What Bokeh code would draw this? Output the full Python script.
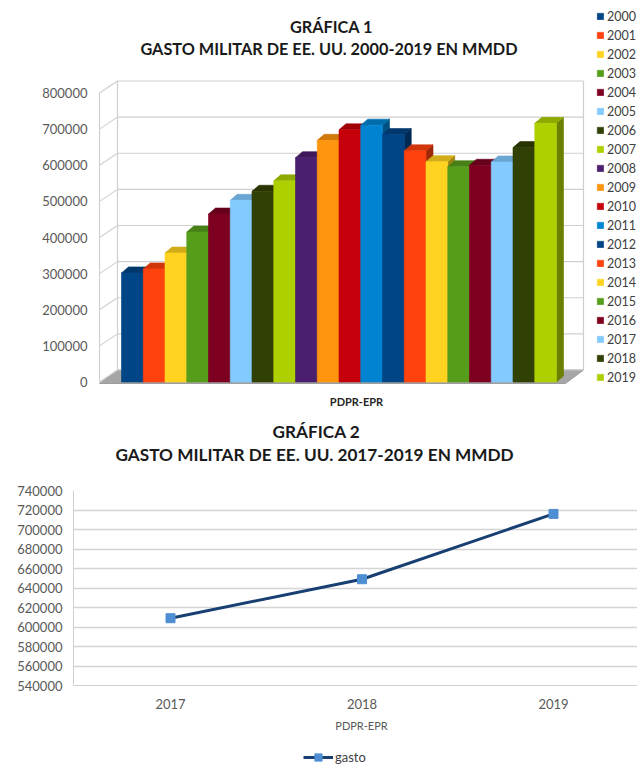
from bokeh.plotting import figure
from bokeh.models import (Range1d, FixedTicker, NumeralTickFormatter, Title,
                          Legend, LegendItem, Label)
from bokeh.layouts import column
from bokeh.embed import file_html
from bokeh.resources import INLINE

# ---------------- data ----------------
years = ["2000", "2001", "2002", "2003", "2004", "2005", "2006", "2007", "2008", "2009",
         "2010", "2011", "2012", "2013", "2014", "2015", "2016", "2017", "2018", "2019"]
gasto_total = [302000, 313000, 357000, 415000, 465000, 503000, 528000, 557000, 621000, 669000,
               698000, 711000, 685000, 640000, 610000, 596000, 600000, 609000, 649000, 716000]
bar_colors = ["#004586", "#ff420e", "#ffd320", "#579d1c", "#7e0021", "#83caff", "#314004",
              "#aecf00", "#4b1f6f", "#ff950e", "#c5000b", "#0084d1", "#004586", "#ff420e",
              "#ffd320", "#579d1c", "#7e0021", "#83caff", "#314004", "#aecf00"]
y1_ticks = [0, 100000, 200000, 300000, 400000, 500000, 600000, 700000, 800000]

years2 = [2017, 2018, 2019]
gasto2 = [609000, 649000, 716000]
y2_ticks = [540000, 560000, 580000, 600000, 620000, 640000, 660000, 680000, 700000,
            720000, 740000]

FONT = "Lato"
TICK_COLOR = "#595959"
TITLE_COLOR = "#1a1a1a"
LINE_COLOR = "#173f72"
MARK_COLOR = "#4e8fd3"


def shade(hex_color, f):
    h = hex_color.lstrip("#")
    r, g, b = (int(h[i:i + 2], 16) for i in (0, 2, 4))
    return "#%02x%02x%02x" % (int(r * f), int(g * f), int(b * f))


# ---------------- chart 1 (pseudo 3D columns); the frame fills the figure ----------------
H1 = 418
LEFT1 = 98
BAR_PX = 21.75                       # pixels per category
PY = 100000 / 36.125                 # value units per pixel
ZERO_PX = 381.5                      # pixel row of value 0
X0 = -1.5575
X1 = X0 + (637 - LEFT1) / BAR_PX
Y0 = -(H1 - ZERO_PX) * PY
Y1 = ZERO_PX * PY


def xd(px):
    return X0 + (px - LEFT1) / BAR_PX


def yd(py):
    return Y0 + (H1 - py) * PY


p1 = figure(width=637, height=H1, x_range=Range1d(X0, X1), y_range=Range1d(Y0, Y1),
            output_backend="svg", toolbar_location=None, x_axis_location=None,
            min_border_left=LEFT1, min_border_right=0, min_border_top=0, min_border_bottom=0)
p1.frame_align = False
p1.outline_line_color = None
p1.xgrid.visible = False
p1.ygrid.visible = False

px_x = 1 / BAR_PX
DX, DY = 18 * px_x, 12 * PY          # wall depth
dxb, dyb = 7 * px_x, 6 * PY          # bar depth
xl = X0 + 1 * px_x
xr = X0 + 485 * px_x

grid_c = "#cfcfcf"
n = len(y1_ticks)
p1.patch([xl, xr - DX, xr, xl + DX], [-4000, -4000, DY, DY], fill_color="#a6a6a6",
         line_color="#9a9a9a", line_width=1)
p1.segment(x0=[xl + DX] * n, y0=[t + DY for t in y1_ticks], x1=[xr] * n,
           y1=[t + DY for t in y1_ticks], line_color=grid_c, line_width=1.2)
p1.segment(x0=[xl] * n, y0=y1_ticks, x1=[xl + DX] * n, y1=[t + DY for t in y1_ticks],
           line_color=grid_c, line_width=1.2)
top_tick = y1_ticks[-1]
p1.segment(x0=[xl, xl + DX, xr], y0=[0, DY, DY], x1=[xl, xl + DX, xr],
           y1=[top_tick, top_tick + DY, top_tick + DY], line_color=grid_c, line_width=1.2)

xs, ys, fills = [], [], []
for i, v in enumerate(gasto_total):
    a, b = i - 0.5, i + 0.5
    c = bar_colors[i]
    xs.append([b, b + dxb, b + dxb, b]); ys.append([0, dyb, v + dyb, v]); fills.append(shade(c, 0.62))
    xs.append([a, b, b + dxb, a + dxb]); ys.append([v, v, v + dyb, v + dyb]); fills.append(shade(c, 0.82))
    xs.append([a, b, b, a]); ys.append([0, 0, v, v]); fills.append(c)
bars = p1.patches(xs, ys, fill_color=fills, line_color=fills, line_width=0.6)

p1.yaxis.ticker = FixedTicker(ticks=y1_ticks)
p1.yaxis.formatter = NumeralTickFormatter(format="0")
p1.yaxis.axis_line_color = None
p1.yaxis.major_tick_line_color = None
p1.yaxis.minor_tick_line_color = None
p1.yaxis.major_tick_out = 0
p1.yaxis.major_tick_in = 0
p1.yaxis.major_label_standoff = 11
p1.yaxis.major_label_text_font = FONT
p1.yaxis.major_label_text_font_size = "13px"
p1.yaxis.major_label_text_color = TICK_COLOR

for txt, cx, cy, size, style, col in [
        ("GRÁFICA 1", 331, 26, "16.3px", "bold", TITLE_COLOR),
        ("GASTO MILITAR DE EE. UU. 2000-2019 EN MMDD", 328.5, 47.5, "16.3px", "bold", TITLE_COLOR),
        ("PDPR-EPR", 356, 401, "11px", "bold", "#262626")]:
    p1.add_layout(Label(x=xd(cx), y=yd(cy), text=txt, text_align="center",
                        text_baseline="middle", text_font=FONT, text_font_size=size,
                        text_font_style=style, text_color=col))

items = [LegendItem(label=lab, renderers=[bars], index=3 * i + 2) for i, lab in enumerate(years)]
leg1 = Legend(items=items, location=(498, 33), padding=0, margin=0, spacing=3,
              glyph_width=8, glyph_height=8, label_height=16, label_standoff=3,
              label_text_font=FONT, label_text_font_size="12.5px", label_text_color="#404040",
              border_line_color=None, background_fill_alpha=0)
p1.add_layout(leg1)

# ---------------- chart 2 (line) ----------------
CAT_PX = 191.5
LEFT2 = 73
XS0 = years2[0] - (170 - LEFT2) / CAT_PX
p2 = figure(width=637, height=297, x_range=Range1d(XS0, XS0 + (637 - LEFT2) / CAT_PX),
            y_range=Range1d(y2_ticks[0], y2_ticks[-1]),
            output_backend="svg", toolbar_location=None,
            min_border_left=LEFT2, min_border_right=0, min_border_top=72, min_border_bottom=30)
p2.frame_align = False
p2.outline_line_color = None
p2.xgrid.visible = False
p2.ygrid.ticker = FixedTicker(ticks=y2_ticks)
p2.ygrid.grid_line_color = "#d4d4d4"
p2.ygrid.grid_line_width = 1.3

p2.line(years2, gasto2, line_color=LINE_COLOR, line_width=3)
p2.scatter(years2, gasto2, marker="square", size=9, fill_color=MARK_COLOR, line_color=MARK_COLOR)

p2.yaxis.ticker = FixedTicker(ticks=y2_ticks)
p2.yaxis.formatter = NumeralTickFormatter(format="0")
p2.yaxis.axis_line_color = "#d0d0d0"
p2.yaxis.major_tick_line_color = None
p2.yaxis.minor_tick_line_color = None
p2.yaxis.major_tick_out = 0
p2.yaxis.major_tick_in = 0
p2.yaxis.major_label_standoff = 11
p2.yaxis.major_label_text_font = FONT
p2.yaxis.major_label_text_font_size = "13px"
p2.yaxis.major_label_text_color = TICK_COLOR

p2.xaxis.ticker = FixedTicker(ticks=years2)
p2.xaxis.axis_line_color = "#d0d0d0"
p2.xaxis.major_tick_line_color = None
p2.xaxis.minor_tick_line_color = None
p2.xaxis.major_tick_out = 0
p2.xaxis.major_tick_in = 0
p2.xaxis.major_label_standoff = 13
p2.xaxis.major_label_text_font = FONT
p2.xaxis.major_label_text_font_size = "13px"
p2.xaxis.major_label_text_color = TICK_COLOR

# titles, closest to the frame first (the first one is an invisible spacer)
p2.add_layout(Title(text=".", text_font=FONT, text_font_size="10px", text_color="white",
                    standoff=17), "above")
p2.add_layout(Title(text="GASTO MILITAR DE EE. UU. 2017-2019 EN MMDD", align="left", offset=42,
                    text_font=FONT, text_font_size="17.2px", text_font_style="bold",
                    text_color=TITLE_COLOR, standoff=0), "above")
p2.add_layout(Title(text="GRÁFICA 2", align="left", offset=199, text_font=FONT,
                    text_font_size="17.2px", text_font_style="bold", text_color=TITLE_COLOR,
                    standoff=0), "above")

# ---------------- strip below chart 2: axis title and legend ----------------
H3 = 54
p3 = figure(width=637, height=H3, x_range=Range1d(0, 637), y_range=Range1d(0, H3),
            output_backend="svg", toolbar_location=None, x_axis_type=None, y_axis_type=None,
            min_border=0)
p3.frame_align = False
p3.outline_line_color = None
p3.xgrid.visible = False
p3.ygrid.visible = False
p3.add_layout(Label(x=361, y=H3 - 10, text="PDPR-EPR", text_align="center",
                    text_baseline="middle", text_font=FONT, text_font_size="11px",
                    text_color=TICK_COLOR))
# legend samples: renderers styled like the series, with their data kept off the strip
dl = p3.line(x=[-60, -50], y=[-60, -60], line_color=LINE_COLOR, line_width=3)
ds = p3.scatter(x=[-55], y=[-60], marker="square", size=9, fill_color=MARK_COLOR,
                line_color=MARK_COLOR)
leg2 = Legend(items=[LegendItem(label="gasto", renderers=[dl, ds])], location=(303, 3),
              orientation="horizontal", padding=0, margin=0, glyph_width=30, glyph_height=18,
              label_standoff=2, label_text_font=FONT, label_text_font_size="13px",
              label_text_color="#404040", border_line_color=None, background_fill_alpha=0)
p3.add_layout(leg2)

layout = column(p1, p2, p3)
open("out.html", "w").write(file_html(layout, INLINE))
